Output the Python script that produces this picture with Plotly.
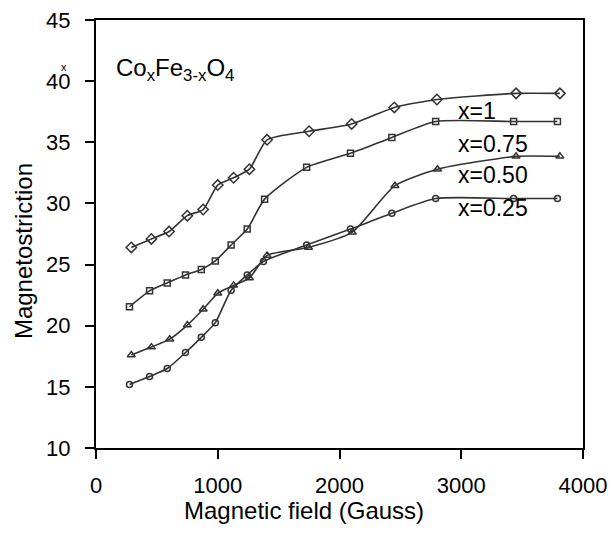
import plotly.graph_objects as go

# Magnetic field (Gauss) values and magnetostriction for each composition
field_x1 = [290, 455, 600, 750, 880, 1000, 1130, 1260, 1405, 1750, 2100, 2450, 2800, 3450, 3810]
mag_x1 = [26.4, 27.1, 27.7, 29.0, 29.5, 31.5, 32.1, 32.8, 35.2, 35.9, 36.5, 37.85, 38.5, 39.0, 39.0]

field_x075 = [275, 440, 585, 735, 865, 980, 1110, 1242, 1385, 1730, 2090, 2430, 2790, 3430, 3790]
mag_x075 = [21.55, 22.85, 23.5, 24.15, 24.6, 25.3, 26.6, 27.9, 30.35, 32.95, 34.1, 35.4, 36.7, 36.7, 36.7]

field_x050 = [290, 455, 605, 750, 880, 1000, 1130, 1260, 1405, 1745, 2105, 2455, 2805, 3450, 3810]
mag_x050 = [17.6, 18.25, 18.9, 20.05, 21.35, 22.65, 23.3, 23.9, 25.75, 26.4, 27.65, 31.45, 32.8, 33.85, 33.85]

field_x025 = [275, 440, 585, 735, 865, 980, 1110, 1242, 1375, 1730, 2090, 2430, 2790, 3430, 3790]
mag_x025 = [15.2, 15.85, 16.5, 17.8, 19.05, 20.25, 22.9, 24.15, 25.25, 26.6, 27.9, 29.2, 30.4, 30.4, 30.4]

series_names = ["x=1", "x=0.75", "x=0.50", "x=0.25"]
x_ticks = [0, 1000, 2000, 3000, 4000]
y_ticks = [10, 15, 20, 25, 30, 35, 40, 45]

label_pos_x = [2955, 2955, 2955, 2955]
label_pos_y = [37.55, 34.9, 32.3, 29.6]

FONT = "Liberation Sans, Arial, sans-serif"
COL = "#333333"

fig = go.Figure()
series = [
    (field_x1, mag_x1, "diamond-open", 8),
    (field_x075, mag_x075, "square-open", 6),
    (field_x050, mag_x050, "triangle-up-open", 7),
    (field_x025, mag_x025, "circle-open", 6),
]
for (xs, ys, sym, sz), name in zip(series, series_names):
    fig.add_trace(go.Scatter(
        x=xs, y=ys, mode="lines+markers", name=name,
        line=dict(color=COL, width=1.6, shape="spline", smoothing=0.6),
        marker=dict(symbol=sym, size=sz, color=COL,
                    line=dict(color=COL, width=1.5)),
        showlegend=False,
    ))

for name, lx, ly in zip(series_names, label_pos_x, label_pos_y):
    fig.add_annotation(x=lx, y=ly, xref="x", yref="y", text=name,
                       showarrow=False, xanchor="left", yanchor="middle",
                       font=dict(family=FONT, size=23, color="black"))

fig.add_annotation(x=0.037, y=0.885, xref="paper", yref="paper",
                   text="Co<sub>x</sub>Fe<sub>3-x</sub>O<sub>4</sub>",
                   showarrow=False, xanchor="left", yanchor="middle",
                   font=dict(family=FONT, size=24, color="black"))
# stray small mark above the 40 label in the original
fig.add_annotation(x=-0.066, y=0.89, xref="paper", yref="paper",
                   text="x", showarrow=False, xanchor="center", yanchor="middle",
                   font=dict(family=FONT, size=11, color="black"))

# axis titles (placed as in the original, slightly off-centre)
fig.add_annotation(x=-0.150, y=0.460, xref="paper", yref="paper",
                   text="Magnetostriction", textangle=-90, showarrow=False,
                   xanchor="center", yanchor="middle",
                   font=dict(family=FONT, size=24, color="black"))
fig.add_annotation(x=0.427, y=-0.147, xref="paper", yref="paper",
                   text="Magnetic field (Gauss)", showarrow=False,
                   xanchor="center", yanchor="middle",
                   font=dict(family=FONT, size=24, color="black"))

axis_common = dict(
    showline=True, linecolor="black", linewidth=2, mirror=True,
    ticks="outside", ticklen=9, tickwidth=2, tickcolor="black",
    showgrid=False, zeroline=False,
    tickfont=dict(family=FONT, size=22, color="black"),
)
fig.update_xaxes(range=[0, 4000], tickvals=x_ticks, ticklabelstandoff=8,
                 **axis_common)
fig.update_yaxes(range=[10, 45], tickvals=y_ticks, ticklabelstandoff=10,
                 **axis_common)

fig.update_layout(
    width=612, height=533,
    margin=dict(l=96, r=29, t=20, b=85, autoexpand=False),
    plot_bgcolor="white", paper_bgcolor="white",
    font=dict(family=FONT, size=22, color="black"),
)
fig.write_html("out.html")
